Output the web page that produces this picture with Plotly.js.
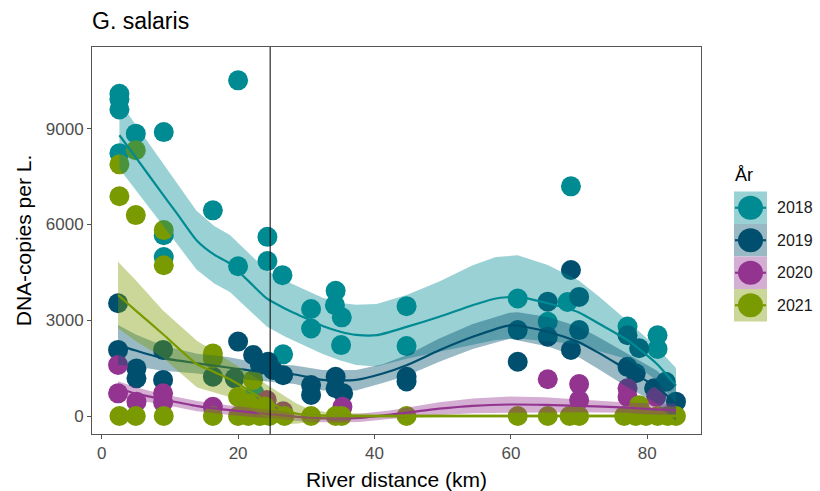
<!DOCTYPE html>
<html>
<head>
<meta charset="utf-8">
<script src="https://cdn.plot.ly/plotly-3.0.1.min.js"></script>
<style>
  html, body { margin: 0; padding: 0; background: #fff; }
  #chart { width: 820px; height: 491px; }
</style>
</head>
<body>
<div id="chart"></div>
<script>
// ---- Observations: river distance (km) and DNA copies per litre, per year ----
const years = ['2018', '2019', '2020', '2021'];

const x2018 = [2.6, 2.6, 2.6, 2.6, 5.0, 9.1, 9.1, 9.1, 16.3, 20.0, 20.0, 24.3, 24.3, 26.5, 26.6, 22.4,
               30.7, 30.7, 34.3, 34.2, 35.2, 35.1, 44.7, 44.7, 61.0, 68.3, 65.4, 68.8, 77.1, 81.5, 81.5];
const y2018 = [10090, 9920, 9600, 8230, 8840, 8890, 5660, 4980, 6440, 10510, 4690, 5610, 4850, 4410, 1930, 710,
               3350, 2740, 3920, 3470, 3090, 2220, 3440, 2190, 3680, 3570, 2950, 7190, 2800, 2530, 2100];

const x2019 = [2.4, 2.4, 5.1, 5.1, 9.0, 9.0, 16.3, 19.5, 20.0, 22.2, 23.2, 24.4, 25.1, 26.6, 30.7, 30.7,
               34.3, 34.3, 35.4, 44.7, 44.7, 61.0, 61.0, 65.4, 65.4, 68.8, 68.8, 70.0, 70.0, 77.1, 77.1,
               78.8, 78.3, 81.0, 82.7, 84.2];
const y2019 = [3530, 2070, 1490, 1180, 2070, 1130, 1230, 1180, 2330, 1910, 1600, 1700, 1440, 1280, 970, 660,
               1230, 870, 710, 1230, 1080, 2690, 1700, 3580, 2480, 4570, 2070, 3730, 2690, 2530, 1540,
               2120, 1340, 870, 1070, 450];

const x2020 = [2.4, 2.4, 5.1, 9.0, 9.0, 16.3, 24.2, 26.6, 35.3, 65.4, 70.0, 70.0, 77.1, 77.1, 81.3];
const y2020 = [1600, 710, 450, 710, 420, 290, 500, 150, 290, 1150, 1000, 500, 870, 600, 600];

const x2021 = [2.6, 2.6, 5.0, 5.0, 9.1, 9.1, 16.3, 16.3, 20.0, 21.5, 22.2, 23.9, 78.8,
               2.6, 5.0, 9.1, 16.3, 20.0, 21.5, 23.2, 24.6, 26.8, 30.7, 34.3, 35.2, 44.7,
               61.0, 65.4, 68.6, 70.0, 76.6, 78.3, 79.8, 81.5, 83.0, 84.2];
const y2021 = [7880, 6880, 8320, 6290, 5820, 4720, 1960, 1800, 600, 400, 1130, 300, 340,
               0, 0, 0, 0, 0, 0, 0, 0, 0, 0, 0, 0, 0,
               0, 0, 0, 0, 0, 0, 0, 0, 0, 0];

// ---- Smoothed trend per year, with its confidence band ----
const fitX2018 = [2.6, 5, 8.5, 11, 13.9, 16.5, 18.8, 21.5, 24.2, 27, 29, 32.4, 35, 37.3, 40.3, 44.7,
                  49.5, 54.4, 57.8, 61, 65.4, 69.9, 73, 77.1, 81.3, 84.2];
const fit2018 = [8790, 8100, 7070, 6350, 5505, 5050, 4776, 4230, 3680, 3350, 3150, 2820, 2640, 2540, 2530, 2790,
                 3110, 3470, 3680, 3730, 3530, 3250, 2880, 2377, 1650, 950];
const upper2018 = [9840, 9120, 8050, 7300, 6425, 5950, 5666, 5110, 4560, 4230, 4030, 3700, 3540, 3480, 3510, 3790,
                   4210, 4720, 4980, 5030, 4730, 4250, 3730, 2977, 2170, 1500];
const lower2018 = [7740, 7080, 6090, 5400, 4585, 4150, 3886, 3350, 2800, 2470, 2270, 1940, 1740, 1600, 1550, 1790,
                   2010, 2220, 2380, 2430, 2330, 2250, 2030, 1777, 1130, 400];

const fitX2019 = [2.4, 5, 9, 14, 18.5, 23.4, 28.3, 32.4, 37.3, 41.2, 44.7, 49.5, 54.4, 59.8, 61, 65.4,
                  69.9, 73, 77.1, 81.3, 84.2];
const fit2019 = [2220, 2050, 1810, 1650, 1520, 1390, 1300, 1130, 1130, 1330, 1590, 2060, 2480, 2840, 2830, 2640,
                 2320, 1960, 1440, 920, 400];
const upper2019 = [2850, 2550, 2200, 1950, 1850, 1650, 1580, 1440, 1440, 1620, 1900, 2430, 2880, 3230, 3250, 3100,
                   2800, 2450, 1950, 1430, 950];
const lower2019 = [1600, 1550, 1420, 1330, 1200, 1100, 1000, 800, 800, 1030, 1260, 1700, 2100, 2420, 2380, 2180,
                   1850, 1450, 900, 400, -150];

const fitX2020 = [2.4, 5, 9, 14, 18.5, 23.4, 28.3, 30.7, 35, 37.8, 42.2, 49.5, 54.4, 59.8, 65, 70, 77, 81, 84.2];
const fit2020 = [870, 700, 520, 310, 190, 85, -20, -60, -75, -60, 40, 230, 320, 360, 350, 320, 260, 210, 180];
const upper2020 = [1090, 900, 680, 470, 340, 220, 110, 65, 50, 70, 170, 430, 550, 610, 590, 520, 420, 390, 390];
const lower2020 = [650, 500, 360, 150, 40, -50, -150, -185, -200, -190, -90, 30, 90, 110, 110, 120, 100, 30, -30];

const fitX2021 = [2.4, 5, 9, 14, 16.3, 18.5, 21.5, 23.4, 25.4, 27, 28.5, 30, 33, 40, 50, 60, 70, 84.2];
const fit2021 = [3790, 3300, 2560, 1620, 1400, 1180, 810, 550, 340, 180, 80, 30, 10, 0, 0, 0, 0, 0];
const upper2021 = [4830, 4250, 3300, 2350, 2050, 1750, 1350, 1080, 820, 600, 400, 250, 120, 60, 60, 60, 60, 60];
const lower2021 = [2750, 2350, 1820, 890, 750, 610, 270, 20, -140, -240, -240, -190, -100, -60, -60, -60, -60, -60];

// Site marked with a reference line
const markerKm = 24.7;

const xTicks = [0, 20, 40, 60, 80];
const yTicks = [0, 3000, 6000, 9000];

// ---- Styling ----
const FONT = 'Liberation Sans, Arial, Helvetica, sans-serif';
const colors = ['#008b93', '#004f6e', '#933590', '#7a9a01'];
const ribbonAlpha = 0.4;

function rgba(hex, a) {
  const n = parseInt(hex.slice(1), 16);
  return `rgba(${(n >> 16) & 255},${(n >> 8) & 255},${n & 255},${a})`;
}
function blendWhite(hex, a) {
  const n = parseInt(hex.slice(1), 16);
  const c = [(n >> 16) & 255, (n >> 8) & 255, n & 255].map(v => Math.round(v * a + 255 * (1 - a)));
  return `rgb(${c[0]},${c[1]},${c[2]})`;
}

const pts = [[x2018, y2018], [x2019, y2019], [x2020, y2020], [x2021, y2021]];
const fits = [
  [fitX2018, fit2018, upper2018, lower2018],
  [fitX2019, fit2019, upper2019, lower2019],
  [fitX2020, fit2020, upper2020, lower2020],
  [fitX2021, fit2021, upper2021, lower2021]
];

const traces = [];
// points first, every year
years.forEach((yr, i) => {
  traces.push({
    type: 'scatter', mode: 'markers', name: yr, showlegend: false,
    x: pts[i][0], y: pts[i][1],
    marker: { size: 20, color: colors[i], line: { width: 0 } },
    hoverinfo: 'x+y+name'
  });
});
// then each year's band and trend line on top
years.forEach((yr, i) => {
  const [fx, fy, up, lo] = fits[i];
  traces.push({
    type: 'scatter', mode: 'lines', showlegend: false, hoverinfo: 'skip',
    x: fx.concat(fx.slice().reverse()),
    y: up.concat(lo.slice().reverse()),
    fill: 'toself', fillcolor: rgba(colors[i], ribbonAlpha),
    line: { width: 0, color: 'rgba(0,0,0,0)' }
  });
  traces.push({
    type: 'scatter', mode: 'lines', name: yr, showlegend: false,
    x: fx, y: fy,
    line: { color: colors[i], width: 2.2, shape: 'spline', smoothing: 0.6 }
  });
});

// ---- Plot geometry (px) ----
const W = 820, H = 491;
const M = { l: 92, r: 119, t: 47, b: 57 };
const PW = W - M.l - M.r, PH = H - M.t - M.b;
const px = x => (x - M.l) / PW;
const py = y => (H - M.b - y) / PH;

// ---- Legend built from shapes and annotations ----
const shapes = [{
  type: 'line', xref: 'x', yref: 'paper', x0: markerKm, x1: markerKm, y0: 0, y1: 1,
  line: { color: '#000', width: 1 }, layer: 'above'
}];
const annotations = [{
  text: 'År', xref: 'paper', yref: 'paper', x: px(733), y: py(175),
  xanchor: 'left', yanchor: 'middle', showarrow: false,
  font: { family: FONT, size: 18, color: '#000' }
}];
const keyLeft = 734, keyW = 33, keyTop = 191.5, keyH = 32.5;
years.forEach((yr, i) => {
  const top = keyTop + i * keyH, bot = top + keyH, mid = (top + bot) / 2;
  shapes.push({
    type: 'rect', xref: 'paper', yref: 'paper',
    x0: px(keyLeft), x1: px(keyLeft + keyW), y0: py(bot), y1: py(top),
    fillcolor: blendWhite(colors[i], ribbonAlpha), line: { width: 0 }, layer: 'above'
  });
  shapes.push({
    type: 'line', xref: 'paper', yref: 'paper',
    x0: px(keyLeft + 1), x1: px(keyLeft + keyW - 1), y0: py(mid), y1: py(mid),
    line: { color: colors[i], width: 2.2 }, layer: 'above'
  });
  shapes.push({
    type: 'circle', xref: 'paper', yref: 'paper',
    xsizemode: 'pixel', ysizemode: 'pixel',
    xanchor: px(keyLeft + keyW / 2), yanchor: py(mid),
    x0: -12.5, x1: 12.5, y0: -12, y1: 12,
    fillcolor: colors[i], line: { width: 0 }, layer: 'above'
  });
  annotations.push({
    text: yr, xref: 'paper', yref: 'paper', x: px(775), y: py(mid),
    xanchor: 'left', yanchor: 'middle', showarrow: false,
    font: { family: FONT, size: 16, color: '#1a1a1a' }
  });
});

const axisCommon = {
  showgrid: false, zeroline: false,
  showline: true, mirror: true, linecolor: '#555', linewidth: 1,
  ticks: 'outside', ticklen: 4, tickwidth: 1, tickcolor: '#555',
  tickfont: { family: FONT, size: 17, color: '#4d4d4d' },
  fixedrange: true
};

const layout = {
  width: W, height: H,
  margin: M,
  paper_bgcolor: '#fff', plot_bgcolor: '#fff',
  font: { family: FONT },
  showlegend: false,
  title: {
    text: 'G. salaris',
    font: { family: FONT, size: 23, color: '#000' },
    x: 0, xref: 'paper', xanchor: 'left',
    y: 1 - 21 / H, yref: 'container', yanchor: 'middle'
  },
  xaxis: Object.assign({}, axisCommon, {
    range: [-1.42, 87.87], tickvals: xTicks, ticktext: xTicks.map(String),
    title: { text: 'River distance (km)', font: { family: FONT, size: 21, color: '#000' }, standoff: 9 }
  }),
  yaxis: Object.assign({}, axisCommon, {
    range: [-563, 11553], tickvals: yTicks, ticktext: yTicks.map(String),
    title: { text: 'DNA-copies per L.', font: { family: FONT, size: 21, color: '#000' }, standoff: 8 }
  }),
  shapes: shapes,
  annotations: annotations
};

Plotly.newPlot('chart', traces, layout, { displayModeBar: false, staticPlot: true });
</script>
</body>
</html>
